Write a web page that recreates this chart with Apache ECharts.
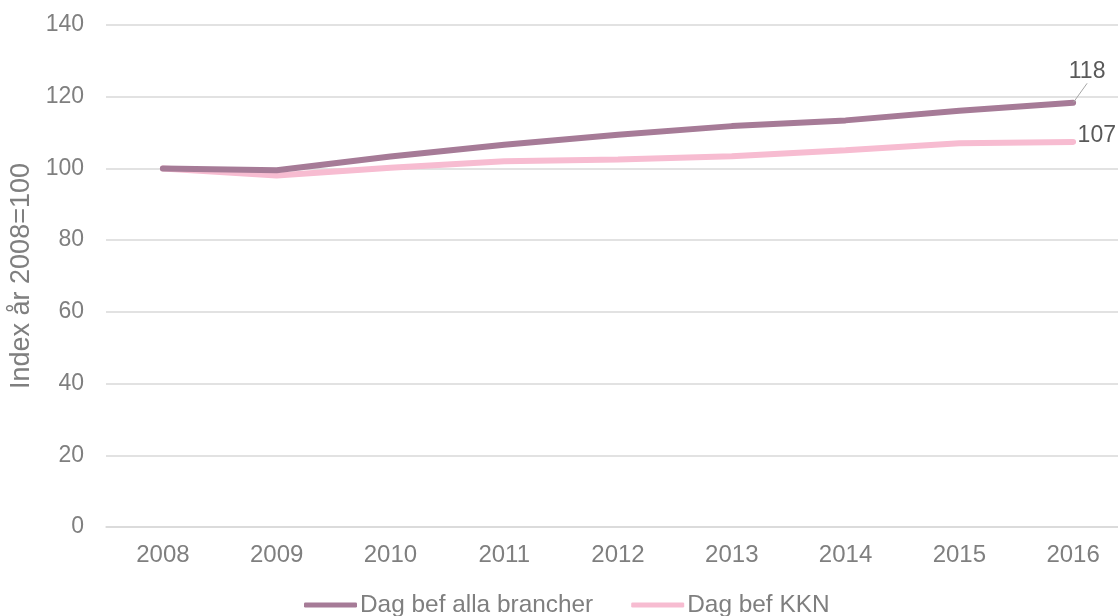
<!DOCTYPE html>
<html>
<head>
<meta charset="utf-8">
<script src="https://cdn.jsdelivr.net/npm/echarts@6/dist/echarts.min.js"></script>
<style>
html,body{margin:0;padding:0;background:#fff;}
#c{width:1118px;height:616px;}
</style>
</head>
<body>
<div id="c"></div>
<script>
const categories = ['2008','2009','2010','2011','2012','2013','2014','2015','2016'];
const allaBrancher = [100, 99.5, 103.3, 106.6, 109.4, 111.8, 113.4, 116.1, 118.3];
const kkn = [100, 98.0, 100.2, 102.0, 102.5, 103.4, 105.1, 107.0, 107.4];
const seriesNames = ['Dag bef alla brancher', 'Dag bef KKN'];
const yTicks = [0, 20, 40, 60, 80, 100, 120, 140];

const FONT = 'Liberation Sans, Arial, sans-serif';
const chart = echarts.init(document.getElementById('c'), null, {renderer: 'canvas'});

function lastLabel(arr, cfg) {
  return arr.map((v, i) => {
    if (i !== arr.length - 1) return {value: v, label: {show: false}};
    return Object.assign({value: v}, cfg);
  });
}

chart.setOption({
  animation: false,
  grid: {left: 106, width: 1024, top: 25, height: 502, outerBoundsMode: 'none', containLabel: false},
  legend: {
    bottom: -6,
    left: 299,
    itemWidth: 53,
    itemHeight: 5,
    itemGap: 38,
    icon: 'roundRect',
    textStyle: {fontFamily: FONT, fontSize: 24.4, color: '#7f7f7f', padding: [0,0,0,-2]},
    data: seriesNames
  },
  xAxis: {
    type: 'category',
    data: categories,
    boundaryGap: true,
    axisLine: {lineStyle: {color: '#d9d9d9', width: 1.5}},
    axisTick: {show: false},
    axisLabel: {fontFamily: FONT, fontSize: 24, color: '#7f7f7f', margin: 16}
  },
  yAxis: {
    type: 'value',
    min: yTicks[0],
    max: yTicks[yTicks.length - 1],
    interval: 20,
    name: 'Index år 2008=100',
    nameLocation: 'middle',
    nameGap: 65,
    nameTextStyle: {fontFamily: FONT, fontSize: 27, color: '#7f7f7f'},
    axisLine: {show: false},
    axisTick: {show: false},
    splitLine: {lineStyle: {color: '#d9d9d9', width: 1.5}},
    axisLabel: {fontFamily: FONT, fontSize: 23, color: '#7f7f7f', margin: 22}
  },
  series: [
    {
      name: seriesNames[0],
      type: 'line',
      data: lastLabel(allaBrancher, {
        label: {show: true, position: 'top', formatter: p => Math.round(p.value),
          fontFamily: FONT, fontSize: 23, color: '#595959'},
        labelLine: {show: true, lineStyle: {color: '#a6a6a6', width: 1}}
      }),
      showSymbol: true,
      symbol: 'circle',
      symbolSize: 1,
      lineStyle: {color: '#a67b97', width: 6, cap: 'round'},
      itemStyle: {color: '#a67b97'},
      labelLayout: function (p) {
        if (p.dataIndex !== allaBrancher.length - 1) return {};
        return {dx: 14, dy: -14};
      },
      z: 3
    },
    {
      name: seriesNames[1],
      type: 'line',
      data: lastLabel(kkn, {
        label: {show: true, position: 'right', formatter: p => Math.round(p.value),
          fontFamily: FONT, fontSize: 23, color: '#595959', offset: [0, -6], distance: 4}
      }),
      showSymbol: true,
      symbol: 'circle',
      symbolSize: 1,
      lineStyle: {color: '#f7bcd1', width: 6, cap: 'round'},
      itemStyle: {color: '#f7bcd1'},
      z: 2
    }
  ]
});
</script>
</body>
</html>
